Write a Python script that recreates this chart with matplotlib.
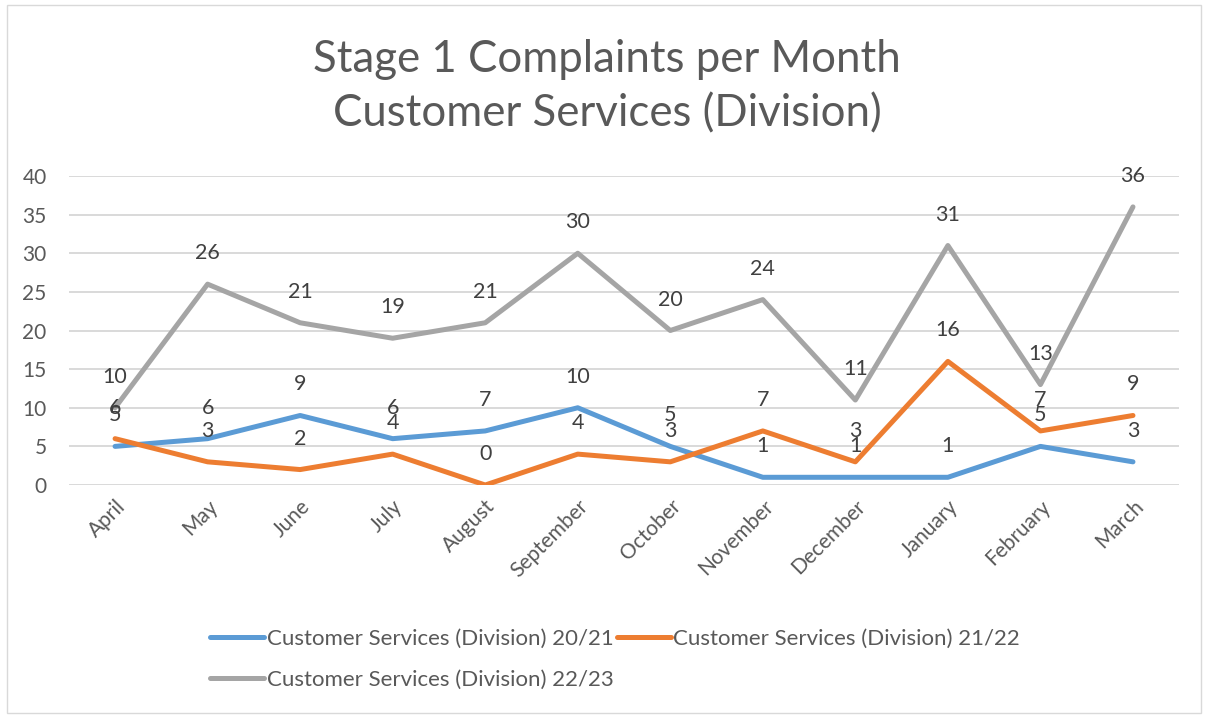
import matplotlib.pyplot as plt
from matplotlib.patches import Rectangle

plt.rcParams.update({
    'font.family': ['Lato', 'DejaVu Sans'],
    'font.size': 14,
})

months = ['April', 'May', 'June', 'July', 'August', 'September', 'October',
          'November', 'December', 'January', 'February', 'March']
cs_2021 = [5, 6, 9, 6, 7, 10, 5, 1, 1, 1, 5, 3]
cs_2122 = [6, 3, 2, 4, 0, 4, 3, 7, 3, 16, 7, 9]
cs_2223 = [10, 26, 21, 19, 21, 30, 20, 24, 11, 31, 13, 36]

series = [
    ('Customer Services (Division) 20/21', cs_2021, '#5B9BD5'),
    ('Customer Services (Division) 21/22', cs_2122, '#ED7D31'),
    ('Customer Services (Division) 22/23', cs_2223, '#A5A5A5'),
]

TEXT = '#595959'
LABEL = '#404040'

fig = plt.figure(figsize=(12.07, 7.16), dpi=100)
ax = fig.add_axes([0.057, 0.3226, 0.920, 0.4316])

x = list(range(len(months)))
handles = []
for name, vals, color in series:
    h, = ax.plot(x, vals, color=color, lw=3.6, solid_capstyle='round',
                 solid_joinstyle='round', label=name, zorder=3)
    handles.append(h)
    for xi, v in zip(x, vals):
        ax.annotate(str(v), (xi, v), xytext=(0, 31), textcoords='offset pixels',
                    ha='center', va='center', fontsize=15.5, color=LABEL, zorder=4)

ax.set_xlim(-0.5, len(months) - 0.5)
ax.set_ylim(0, 40)
ax.set_yticks(range(0, 41, 5))
ax.set_xticks(x)
ax.set_xticklabels(months, rotation=45, ha='right', rotation_mode='anchor')
ax.tick_params(axis='both', length=0, colors=TEXT, labelsize=15)
ax.tick_params(axis='y', pad=16)
ax.tick_params(axis='x', pad=8)
ax.grid(axis='y', color='#D9D9D9', lw=1.4)
ax.set_axisbelow(True)
for s in ax.spines.values():
    s.set_visible(False)

fig.text(0.503, 0.879, 'Stage 1 Complaints per Month\nCustomer Services (Division)',
         ha='center', va='center', fontsize=31.5, color=TEXT, linespacing=1.4)

leg = fig.legend([handles[0], handles[2], handles[1]],
                 [series[0][0], series[2][0], series[1][0]],
                 ncol=2, loc='center left', bbox_to_anchor=(0.174, 0.079),
                 frameon=False, fontsize=16,
                 handlelength=2.45, handletextpad=0.1, columnspacing=0.15,
                 labelspacing=0.95, borderaxespad=0, borderpad=0)
for t in leg.get_texts():
    t.set_color(TEXT)

fig.patches.append(Rectangle((0.006, 0.004), 0.989, 0.989, transform=fig.transFigure,
                             fill=False, edgecolor='#D9D9D9', lw=1))

fig.savefig('out.png', dpi=100)
